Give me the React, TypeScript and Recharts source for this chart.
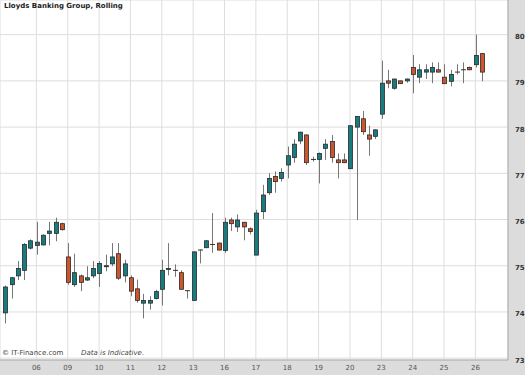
import { Bar, CartesianGrid, ComposedChart, XAxis, YAxis } from "recharts";

// one candle per slot, 5 slots per trading day
const opens = [
  73.98, 74.59, 74.78, 74.9, 75.38, 75.44, 75.45, 75.7, 75.7, 75.91,
  75.19, 74.59, 74.78, 74.69, 74.78, 74.83, 74.98, 75.04, 75.26, 74.78,
  74.74, 74.5, 74.19, 74.19, 74.29, 74.49, 74.93, 74.9, 74.85, 74.46,
  74.25, 75.34, 75.39, 75.46, 75.49, 75.33, 75.99, 75.84, 75.94, 75.8,
  75.23, 76.17, 76.58, 76.93, 76.89, 77.18, 77.34, 77.7, 77.83, 77.3,
  77.3, 77.54, 77.69, 77.29, 77.29, 77.1, 78.0, 78.18, 77.83, 77.8,
  78.28, 79.0, 78.84, 79.0, 79.0, 79.29, 79.08, 79.19, 79.19, 79.24,
  79.08, 78.99, 79.19, 79.24, 79.29, 79.35, 79.59,
];
const highs = [
  74.57, 74.76, 75.1, 75.49, 75.57, 75.95, 75.68, 75.95, 76.04, 75.93,
  75.49, 75.26, 74.81, 74.99, 75.1, 75.1, 75.24, 75.49, 75.49, 75.13,
  74.79, 74.7, 74.39, 74.34, 74.48, 75.13, 75.49, 75.03, 74.9, 74.47,
  75.31, 75.35, 75.55, 76.14, 75.5, 76.04, 76.04, 76.11, 75.95, 75.83,
  76.21, 76.75, 77.0, 77.04, 77.11, 77.58, 77.74, 77.9, 77.84, 77.36,
  77.45, 77.74, 77.83, 77.43, 77.43, 78.04, 78.24, 78.35, 78.03, 77.95,
  79.44, 79.24, 79.05, 79.01, 79.05, 79.56, 79.36, 79.36, 79.4, 79.4,
  79.36, 79.24, 79.36, 79.4, 79.31, 80.0, 79.6,
];
const lows = [
  73.75, 74.29, 74.69, 74.69, 75.35, 75.24, 75.44, 75.44, 75.53, 75.76,
  74.59, 74.54, 74.45, 74.67, 74.73, 74.54, 74.88, 74.99, 74.69, 74.64,
  74.34, 74.2, 73.86, 74.05, 74.27, 74.14, 74.79, 74.76, 74.48, 74.29,
  74.24, 75.05, 75.38, 75.28, 75.33, 75.28, 75.75, 75.73, 75.55, 75.68,
  75.23, 76.01, 76.53, 76.58, 76.82, 76.89, 77.23, 77.63, 77.18, 77.25,
  76.78, 77.29, 77.23, 76.89, 77.22, 77.09, 75.99, 77.83, 77.38, 77.74,
  78.18, 78.84, 78.81, 78.93, 78.96, 78.73, 78.95, 79.04, 78.95, 79.18,
  78.93, 78.88, 79.14, 78.95, 79.23, 79.29, 78.99,
];
const closes = [
  74.54, 74.74, 74.94, 75.46, 75.54, 75.51, 75.66, 75.75, 75.94, 75.78,
  74.64, 74.85, 74.64, 74.74, 74.94, 75.05, 75.0, 75.19, 74.73, 75.04,
  74.45, 74.25, 74.25, 74.25, 74.44, 74.9, 74.94, 74.9, 74.49, 74.46,
  75.3, 75.34, 75.54, 75.46, 75.34, 75.94, 75.91, 75.99, 75.84, 75.74,
  76.14, 76.53, 76.89, 76.82, 77.02, 77.38, 77.63, 77.89, 77.23, 77.3,
  77.43, 77.63, 77.34, 77.23, 77.23, 78.03, 78.23, 77.9, 77.74, 77.94,
  78.95, 78.95, 79.04, 78.94, 79.04, 79.14, 79.24, 79.24, 79.29, 79.19,
  78.94, 79.14, 79.19, 79.24, 79.24, 79.55, 79.19,
];

const dayTicks = [5, 10, 15, 20, 25, 30, 35, 40, 45, 50, 55, 60, 65, 70, 75];
const dayLabels = ["06", "09", "10", "11", "12", "13", "16", "17", "18", "19", "20", "23", "24", "25", "26"];
const priceTicks = [73, 74, 75, 76, 77, 78, 79, 80];

const data = opens.map((o, i) => ({
  i,
  o,
  h: highs[i],
  l: lows[i],
  c: closes[i],
  range: [lows[i], highs[i]],
}));

const UP = "#167c80";
const DOWN = "#cd552b";
const FONT = "Verdana, 'DejaVu Sans', sans-serif";

function Candle(props: any) {
  const { x, y, width, height, payload } = props;
  if (!payload) return null;
  const { o, h, l, c } = payload;
  const ratio = height / (h - l);
  const py = (v: number) => y + (h - v) * ratio;
  const cx = Math.round(x + width / 2) + 0.5;
  const top = py(Math.max(o, c));
  const bot = py(Math.min(o, c));
  const bodyH = Math.max(bot - top, 1);
  return (
    <g>
      <line x1={cx} x2={cx} y1={y} y2={y + height} stroke="#777" strokeWidth={1} />
      {o === c ? (
        <line x1={cx - 2.5} x2={cx + 2.5} y1={top} y2={top} stroke="#333" strokeWidth={1} />
      ) : (
        <rect
          x={cx - 2}
          y={top}
          width={4}
          height={bodyH}
          fill={c > o ? UP : DOWN}
          stroke="#2a2a2a"
          strokeWidth={0.8}
        />
      )}
    </g>
  );
}

export default function App() {
  return (
    <div style={{ position: "absolute", left: 0, top: 0, width: 525, height: 375, background: "#dcdcdc" }}>
      <ComposedChart width={525} height={375} data={data} margin={{ top: 0, right: 0, bottom: 0, left: 0 }}>
        <CartesianGrid fill="#fff" stroke="#dedede" />
        <XAxis
          dataKey="i"
          type="number"
          domain={[-0.8, 80.2]}
          ticks={dayTicks}
          tickFormatter={(v: number) => dayLabels[dayTicks.indexOf(v)] ?? ""}
          height={15}
          tickSize={0}
          tickMargin={5}
          axisLine={{ stroke: "#a8a8a8" }}
          tick={{ fontSize: 7, fill: "#555", fontFamily: FONT }}
          allowDataOverflow
        />
        <YAxis
          orientation="right"
          type="number"
          domain={[72.96, 80.75]}
          ticks={priceTicks}
          width={17}
          tickSize={0}
          tickMargin={7}
          axisLine={{ stroke: "#a8a8a8" }}
          tick={{ fontSize: 7, fill: "#333", fontWeight: "bold", fontFamily: FONT, dy: 2 }}
          allowDataOverflow
        />
        <Bar dataKey="range" barSize={5} shape={<Candle />} isAnimationActive={false} />
      </ComposedChart>
      <div
        style={{
          position: "absolute",
          left: 4,
          top: 2,
          fontFamily: FONT,
          fontSize: 7,
          fontWeight: "bold",
          color: "#222",
        }}
      >
        Lloyds Banking Group, Rolling
      </div>
      <div
        style={{
          position: "absolute",
          left: 2,
          top: 349,
          fontFamily: FONT,
          fontSize: 7,
          color: "#444",
          whiteSpace: "nowrap",
        }}
      >
        © IT-Finance.com
        <span style={{ position: "absolute", left: 79, top: 0, fontStyle: "italic" }}>Data is Indicative.</span>
      </div>
    </div>
  );
}
